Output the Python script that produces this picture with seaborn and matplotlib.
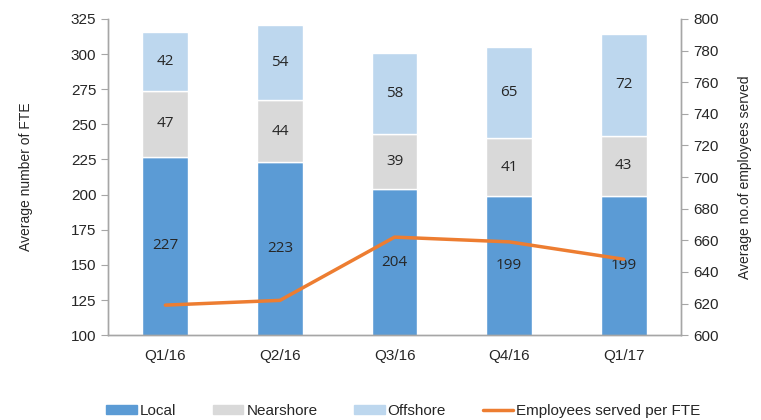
import numpy as np
import pandas as pd
import matplotlib
matplotlib.use('Agg')
import matplotlib.pyplot as plt
import seaborn as sns
from matplotlib.patches import Patch
from matplotlib.lines import Line2D

quarters = ['Q1/16', 'Q2/16', 'Q3/16', 'Q4/16', 'Q1/17']
local = [227, 223, 204, 199, 199]
nearshore = [47, 44, 39, 41, 43]
offshore = [42, 54, 58, 65, 72]
served_per_fte = [619, 622, 662, 659, 648]

c_local = '#5B9BD5'
c_near = '#D9D9D9'
c_off = '#BDD7EE'
c_line = '#ED7D31'
c_axis = '#A6A6A6'

sns.set_style('white')
plt.rcParams['font.family'] = ['Liberation Sans', 'DejaVu Sans']

df = pd.DataFrame({'quarter': quarters, 'Local': local,
                   'Nearshore': nearshore, 'Offshore': offshore})
df['base_off'] = df['Local'] + df['Nearshore']

fig = plt.figure(figsize=(7.61, 4.2), dpi=100)
ax = fig.add_axes([0.142, 0.202, 0.753, 0.753])

# stacked bars, drawn from the bottom up
sns.barplot(data=df, x='quarter', y='Local', color=c_local, width=0.4,
            bottom=0, ax=ax, saturation=1)
sns.barplot(data=df, x='quarter', y='Nearshore', color=c_near, width=0.4,
            bottom=df['Local'], ax=ax, saturation=1)
sns.barplot(data=df, x='quarter', y='Offshore', color=c_off, width=0.4,
            bottom=df['base_off'], ax=ax, saturation=1)

# segment labels
for i in range(len(quarters)):
    segs = [(0, local[i]), (local[i], nearshore[i]),
            (local[i] + nearshore[i], offshore[i])]
    for b, h in segs:
        ax.text(i, max(b, 100) + (b + h - max(b, 100)) / 2, str(h),
                ha='center', va='center', fontsize=11, color='#262626',
                family=['Open Sans', 'DejaVu Sans'])

ax.set_ylim(100, 325)
ax.set_yticks(range(100, 326, 25))
ax.set_xlim(-0.5, 4.5)
ax.set_xlabel('')
ax.set_ylabel('Average number of FTE', fontsize=10, labelpad=27)
ax.set_xticks(range(5))
ax.set_xticklabels(quarters)
ax.set_xticks(np.arange(-0.5, 5, 1), minor=True)
ax.tick_params(axis='x', which='major', length=0, labelsize=11, pad=10)
ax.tick_params(axis='x', which='minor', length=5, color=c_axis, direction='out')
ax.tick_params(axis='y', length=5, color=c_axis, labelsize=11, left=True,
               direction='out')

ax2 = ax.twinx()
sns.lineplot(x=np.arange(5), y=served_per_fte, color=c_line, linewidth=2.5,
             ax=ax2)
ax2.set_ylim(600, 800)
ax2.set_yticks(range(600, 801, 20))
ax2.set_ylabel('Average no.of employees served', fontsize=10, labelpad=14)
ax2.tick_params(axis='y', length=5, color=c_axis, labelsize=11, right=True,
                direction='out')
ax2.set_xlim(-0.5, 4.5)

for a in (ax, ax2):
    for s in a.spines.values():
        s.set_color(c_axis)
        s.set_linewidth(1)
    a.spines['top'].set_visible(False)

handles = [Patch(color=c_local, label='Local'),
           Patch(color=c_near, label='Nearshore'),
           Patch(color=c_off, label='Offshore'),
           Line2D([0], [0], color=c_line, lw=2.5, label='Employees served per FTE')]
fig.legend(handles=handles, loc='center', bbox_to_anchor=(0.53, 0.022),
           ncol=4, frameon=False, fontsize=11, handlelength=2.0,
           handleheight=0.55, columnspacing=2.4, handletextpad=0.2)

fig.savefig('out.png', dpi=100)
